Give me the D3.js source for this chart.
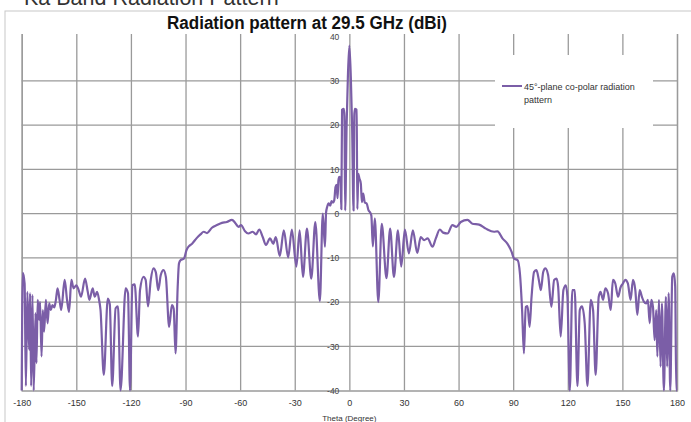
<!DOCTYPE html>
<html>
<head>
<meta charset="utf-8">
<script src="https://cdn.jsdelivr.net/npm/d3@7"></script>
<style>
  body { margin: 0; background: #fff; }
  svg { display: block; font-family: "Liberation Sans", Arial, sans-serif; }
</style>
</head>
<body>
<div id="chart"></div>
<script>
// theta in degrees, gain in dBi
var thetaDeg = [
  -180.0, -179.4, -178.4, -177.7, -176.9, -175.9, -175.4, -174.8, -174.1, -173.4,
  -172.4, -171.9, -171.2, -170.5, -169.9, -169.1, -168.4, -167.7, -166.7, -165.8,
  -164.9, -164.0, -163.1, -162.1, -161.2, -160.3, -159.2, -158.3, -156.4, -155.1,
  -154.0, -152.7, -151.5, -150.0, -148.7, -147.4, -145.2, -143.7, -142.8, -141.0,
  -139.9, -138.6, -137.5, -136.7, -134.9, -132.7, -131.6, -130.3, -128.4, -127.1,
  -125.7, -122.9, -121.6, -120.5, -119.2, -117.9, -116.1, -115.0, -113.1, -111.9,
  -110.6, -109.1, -107.6, -106.3, -105.0, -103.6, -102.1, -100.8, -99.0, -97.5,
  -96.5, -95.5, -94.3, -93.6, -92.7, -90.9, -89.5, -88.2, -86.4, -84.0,
  -81.8, -80.0, -78.2, -75.5, -72.7, -70.0, -67.3, -64.5, -62.7, -60.9,
  -59.5, -57.3, -55.5, -53.1, -51.3, -49.5, -47.6, -45.8, -43.6, -41.8,
  -40.4, -38.2, -36.0, -33.6, -31.6, -29.1, -27.3, -25.5, -23.3, -20.9,
  -18.7, -16.2, -14.6, -13.4, -12.8, -12.2, -11.3, -10.5, -9.8, -9.0,
  -8.3, -7.6, -7.0, -6.5, -6.0, -5.5, -4.9, -4.4, -4.0, -3.0,
  -2.7, -2.3, -1.5, -0.8, 0.0, 0.8, 1.5, 2.3, 2.7, 3.0,
  4.0, 4.4, 4.9, 5.5, 6.3, 6.9, 7.6, 8.5, 9.5, 10.5,
  11.5, 12.1, 12.9, 14.0, 15.9, 17.8, 20.4, 22.4, 24.5, 26.7,
  28.5, 30.5, 32.7, 34.9, 37.3, 39.2, 41.1, 43.0, 45.7, 47.5,
  49.7, 51.5, 53.9, 56.6, 58.8, 61.2, 64.9, 67.6, 71.3, 75.0,
  79.5, 81.4, 84.1, 86.8, 89.1, 90.5, 92.4, 93.7, 94.9, 95.9,
  96.9, 97.9, 99.0, 100.1, 101.5, 102.8, 104.1, 105.2, 106.5, 107.7,
  109.2, 111.0, 112.5, 113.8, 114.7, 116.1, 117.6, 118.9, 119.8, 121.1,
  122.5, 123.8, 125.3, 126.6, 127.8, 129.3, 130.8, 132.6, 133.9, 135.3,
  137.0, 138.0, 139.4, 140.6, 142.1, 143.6, 144.8, 146.1, 147.6, 149.0,
  150.3, 151.6, 153.0, 154.5, 155.8, 157.1, 158.2, 159.5, 160.7, 161.8,
  163.1, 164.0, 165.0, 165.9, 166.8, 167.7, 168.6, 169.2, 170.1, 171.0,
  171.7, 172.8, 173.9, 174.6, 175.4, 176.3, 177.4, 178.3, 179.0, 179.6,
  180.0
];
var gainDbi = [
  -40, -13.4, -15.8, -39, -17.7, -30.8, -18, -39, -18.4, -40,
  -22.5, -33.8, -19.5, -24, -20, -32.3, -21.8, -26.7, -19.5, -24.8,
  -20.3, -21.8, -20.7, -21.2, -19.5, -16.9, -19.5, -21.8, -15, -19.5,
  -22.2, -15, -16.9, -16.2, -17.3, -18.8, -14.7, -17.7, -19.5, -16.9,
  -18.8, -17.7, -19.5, -21.8, -36.5, -19.2, -20.5, -39, -21.4, -21,
  -40, -16.9, -18, -40, -16.2, -16, -27.8, -17.3, -14.3, -15,
  -21, -15, -12.4, -13.3, -17.3, -13.9, -12.8, -14.3, -25.6, -20.7,
  -21.5, -31.6, -16.5, -11.3, -10.5, -10.2, -8.3, -7.4, -6.8, -5.6,
  -4.7, -4.1, -4.4, -3.2, -2.6, -2.1, -1.9, -1.4, -2.1, -3.0,
  -2.6, -4.0, -4.5, -4.1, -4.7, -3.6, -5.3, -7.1, -5.6, -6.8,
  -5.3, -9.6, -3.8, -9.9, -3.6, -12, -3.8, -14.3, -3.4, -14.7,
  -1.9, -19.8, 0, -7.5, 0.2, 1.5, 2.3, 1.8, 2.8, 2.5,
  3.0, 6.0, 6.5, 3.5, 7.5, 8.3, 8.0, 1.0, 23.5, 23.7,
  22, 0.7, 20, 31, 38, 31, 20, 0.7, 22, 23.7,
  23.5, 1.0, 9.0, 8.0, 6.8, 2.6, 4.5, 2.5, 2.3, 0.8,
  0.2, -0.5, -7.4, -1.1, -20, -2.3, -14.6, -3.4, -14.3, -3.8,
  -12, -3.6, -9, -3.8, -8.9, -5.3, -6.0, -5.6, -7.5, -5.6,
  -3.6, -4.3, -4.5, -2.6, -3.0, -1.9, -1.4, -2.3, -2.5, -3.4,
  -4.1, -4.0, -5.6, -6.8, -8.6, -10.2, -10.5, -13.5, -21.8, -31.6,
  -21.1, -20.9, -25.6, -18.8, -13.2, -12.8, -15, -17.3, -13.2, -12.4,
  -13.9, -21.1, -15, -14.7, -16.5, -27.8, -17.3, -16.2, -18.8, -40,
  -17.3, -17.3, -39, -21.8, -21, -24.8, -39, -19.5, -21.8, -36.5,
  -18.8, -17.7, -19.5, -16.9, -18, -21.8, -15, -15.8, -18.8, -16.7,
  -15.8, -15, -15.8, -19.5, -15, -17.3, -22.9, -17.3, -18.8, -19.9,
  -20.3, -19.5, -24.8, -19.5, -21.1, -28.6, -21.8, -32.3, -19.5, -34.6,
  -20.3, -40, -18.8, -34.6, -18, -40, -14.3, -13.5, -16.5, -40,
  -40
];

var xTicks = [-180, -150, -120, -90, -60, -30, 0, 30, 60, 90, 120, 150, 180];
var yTicks = [-40, -30, -20, -10, 0, 10, 20, 30, 40];
var yGridTicks = [-30, -20, -10, 0, 10, 20, 30];

var pageTitle = "Ka Band Radiation Pattern";
var chartTitle = "Radiation pattern at 29.5 GHz (dBi)";
var xTitle = "Theta (Degree)";
var seriesName = ["45°-plane co-polar radiation", "pattern"];

const WIDTH = 691;
const HEIGHT = 422;
const LEFT = 21.7, RIGHT = 677, TOP = 36.7, BOTTOM = 390.5;
const LINE_COLOR = "#7b5ea7";
const GRID_COLOR = "#9a9a9a";

var translate = function(x, y){
  return "translate(" + x + "," + y + ")";
};

var xScale = d3.scaleLinear().domain([-180, 180]).range([LEFT, RIGHT]);
var yScale = d3.scaleLinear().domain([-40, 40]).range([BOTTOM, TOP]);

var svg = d3.select("#chart").append("svg")
  .attr("width", WIDTH)
  .attr("height", HEIGHT);

svg.append("rect").attr("width", WIDTH).attr("height", HEIGHT).attr("fill", "#fff");

// page heading, mostly cut off at the top
svg.append("text")
  .attr("x", 24).attr("y", 5)
  .attr("font-size", 21.5).attr("fill", "#333")
  .text(pageTitle);

// chart frame
svg.append("rect")
  .attr("x", 5).attr("y", 11)
  .attr("width", WIDTH).attr("height", HEIGHT)
  .attr("fill", "none").attr("stroke", "#c8c8c8").attr("stroke-width", 1);

svg.append("text")
  .attr("x", 167).attr("y", 28.5)
  .attr("font-size", 17.5).attr("font-weight", "bold").attr("fill", "#111")
  .attr("textLength", 280).attr("lengthAdjust", "spacingAndGlyphs")
  .text(chartTitle);

// vertical grid + x labels
var xAxis = d3.axisBottom(xScale).tickValues(xTicks)
  .tickSize(-(BOTTOM - 34)).tickPadding(9)
  .tickFormat(function(d){ return String(d); });
var gx = svg.append("g").attr("transform", translate(0, BOTTOM)).call(xAxis);
gx.select(".domain").attr("stroke", GRID_COLOR).attr("stroke-width", 1.3);
gx.selectAll(".tick line").attr("stroke", GRID_COLOR).attr("stroke-width", 1.3);
gx.selectAll(".tick text").attr("font-size", 9).attr("fill", "#333")
  .attr("font-family", "'Liberation Sans', Arial, sans-serif");

// horizontal grid
svg.append("g").selectAll("line")
  .data(yGridTicks).enter().append("line")
  .attr("x1", LEFT).attr("x2", RIGHT + 1)
  .attr("y1", function(d){ return yScale(d); })
  .attr("y2", function(d){ return yScale(d); })
  .attr("stroke", GRID_COLOR).attr("stroke-width", 1.3);

// y labels sit beside the theta = 0 line
var yAxis = d3.axisLeft(yScale).tickValues(yTicks).tickSize(0).tickPadding(10)
  .tickFormat(function(d){ return String(d); });
var gy = svg.append("g").attr("transform", translate(xScale(0), 0)).call(yAxis);
gy.select(".domain").remove();
gy.selectAll(".tick text").attr("font-size", 8.5).attr("fill", "#444")
  .attr("font-family", "'Liberation Sans', Arial, sans-serif");

svg.append("text")
  .attr("x", xScale(0)).attr("y", 421)
  .attr("text-anchor", "middle").attr("font-size", 8).attr("fill", "#333")
  .text(xTitle);

// legend box hides the grid behind it
svg.append("rect")
  .attr("x", 495).attr("y", 55).attr("width", 158).attr("height", 73)
  .attr("fill", "#fff");
svg.append("line")
  .attr("x1", 502).attr("x2", 522).attr("y1", 86).attr("y2", 86)
  .attr("stroke", LINE_COLOR).attr("stroke-width", 2);
svg.append("text")
  .attr("font-size", 9).attr("fill", "#333")
  .selectAll("tspan").data(seriesName).enter().append("tspan")
  .attr("x", 524)
  .attr("y", function(d, i){ return 89.5 + i * 13; })
  .text(function(d){ return d; });

var points = thetaDeg.map(function(t, i){ return [t, gainDbi[i]]; });

var line = d3.line()
  .x(function(d){ return xScale(d[0]); })
  .y(function(d){ return yScale(d[1]); })
  .curve(d3.curveMonotoneX);

svg.append("path")
  .attr("d", line(points))
  .attr("fill", "none")
  .attr("stroke", LINE_COLOR)
  .attr("stroke-width", 2.2)
  .attr("stroke-linejoin", "round");
</script>
</body>
</html>
